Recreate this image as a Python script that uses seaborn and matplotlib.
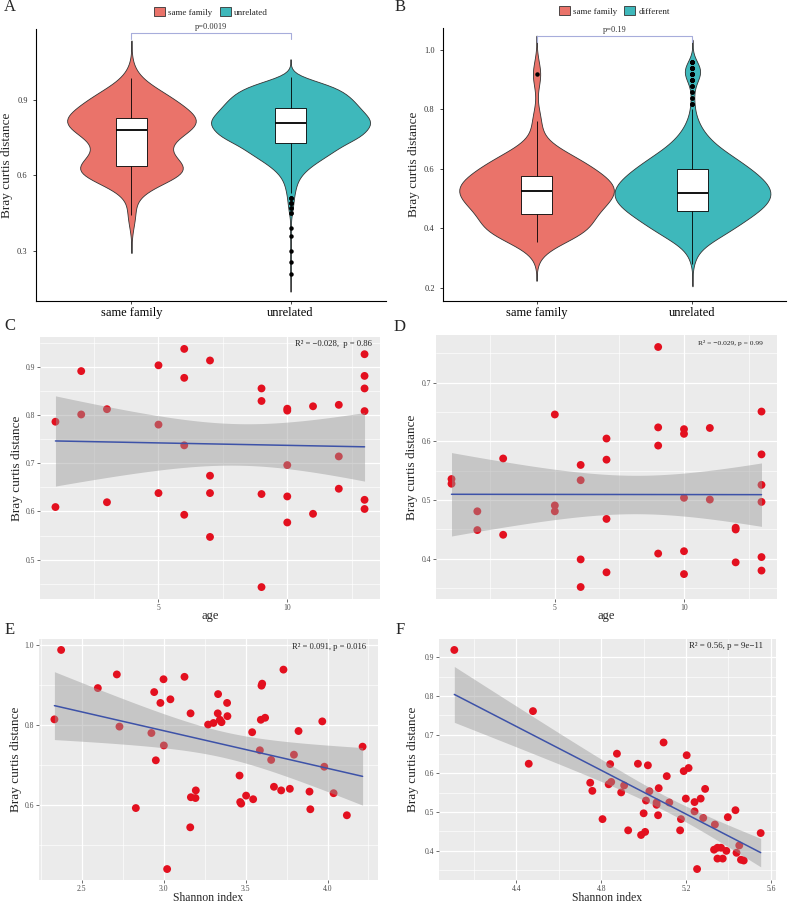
import matplotlib
matplotlib.use('Agg')
import matplotlib.pyplot as plt
from matplotlib.patches import Patch
from matplotlib.ticker import MultipleLocator
import numpy as np
import pandas as pd
import seaborn as sns

SAME_COLOR = '#EA736A'
OTHER_COLOR = '#3EB8BB'
POINT_COLOR = '#E3101F'
LINE_COLOR = '#3D52A8'
BRACKET_COLOR = '#A7ADDB'

# ---- panels C / D: age vs Bray-Curtis distance (same family pairs) ----
age = [1, 1, 2, 2, 3, 3, 5, 5, 5, 6, 6, 6, 6, 7, 7, 7, 7, 9, 9, 9, 9,
       10, 10, 10, 10, 10, 11, 11, 12, 12, 12, 13, 13, 13, 13, 13, 13]
bray_age_c = [0.786, 0.609, 0.891, 0.801, 0.812, 0.619, 0.903, 0.780, 0.638,
              0.937, 0.877, 0.737, 0.593, 0.913, 0.674, 0.638, 0.547,
              0.855, 0.829, 0.636, 0.443, 0.813, 0.809, 0.696, 0.631, 0.577,
              0.818, 0.595, 0.821, 0.714, 0.647,
              0.926, 0.881, 0.855, 0.808, 0.624, 0.605]
bray_age_d = [0.536, 0.528, 0.481, 0.449, 0.571, 0.441, 0.646, 0.491, 0.481,
              0.560, 0.534, 0.399, 0.352, 0.605, 0.569, 0.468, 0.377,
              0.761, 0.624, 0.593, 0.409, 0.621, 0.613, 0.504, 0.413, 0.374,
              0.623, 0.501, 0.453, 0.450, 0.394,
              0.651, 0.578, 0.526, 0.497, 0.403, 0.380]

# ---- panel E: Shannon index vs Bray-Curtis distance ----
shannon_e = [2.333, 2.374, 2.598, 2.714, 2.730, 2.830, 2.925, 2.942, 2.952, 2.980,
             2.999, 3.001, 3.041, 3.021, 3.127, 3.164, 3.162, 3.166, 3.194, 3.196,
             3.271, 3.304, 3.332, 3.330, 3.343, 3.353, 3.387, 3.389, 3.463, 3.467,
             3.473, 3.503, 3.540, 3.546, 3.587, 3.593, 3.597, 3.601, 3.619, 3.656,
             3.673, 3.717, 3.731, 3.770, 3.795, 3.823, 3.890, 3.895, 3.968, 3.980,
             4.037, 4.118, 4.214]
bray_e = [0.814, 0.987, 0.892, 0.926, 0.796, 0.593, 0.780, 0.882, 0.712, 0.855,
          0.914, 0.749, 0.864, 0.441, 0.920, 0.829, 0.545, 0.620, 0.618, 0.637,
          0.801, 0.805, 0.877, 0.829, 0.813, 0.807, 0.855, 0.822, 0.674, 0.608,
          0.604, 0.624, 0.782, 0.615, 0.737, 0.813, 0.898, 0.903, 0.818, 0.713,
          0.646, 0.637, 0.938, 0.641, 0.726, 0.785, 0.634, 0.590, 0.809, 0.696,
          0.630, 0.575, 0.746]

# ---- panel F: Shannon index vs Bray-Curtis distance ----
shannon_f = [4.107, 4.458, 4.478, 4.874, 4.842, 4.973, 5.020, 4.748, 4.758, 4.835,
             4.847, 4.908, 4.894, 5.109, 5.071, 5.027, 5.011, 5.061, 5.061, 5.121,
             4.806, 5.000, 5.068, 4.927, 4.988, 5.007, 5.094, 5.203, 5.189, 5.212,
             5.290, 5.199, 5.240, 5.269, 5.240, 5.176, 5.172, 5.281, 5.336, 5.397,
             5.433, 5.552, 5.451, 5.332, 5.348, 5.365, 5.390, 5.438, 5.348, 5.373,
             5.459, 5.472, 5.252]
bray_f = [0.919, 0.625, 0.761, 0.651, 0.624, 0.625, 0.621, 0.576, 0.555, 0.572,
          0.578, 0.569, 0.551, 0.593, 0.562, 0.554, 0.530, 0.525, 0.519, 0.525,
          0.482, 0.497, 0.492, 0.453, 0.441, 0.449, 0.680, 0.647, 0.606, 0.614,
          0.560, 0.535, 0.526, 0.535, 0.502, 0.482, 0.453, 0.485, 0.468, 0.487,
          0.505, 0.446, 0.414, 0.403, 0.408, 0.408, 0.400, 0.395, 0.380, 0.380,
          0.377, 0.375, 0.353]

# ---- panels A / B: unrelated pairs, read as value / count histogram ----
unrel_a_values = [0.99, 0.97, 0.95, 0.93, 0.91, 0.89, 0.87, 0.85, 0.83, 0.81,
                  0.79, 0.77, 0.75, 0.73, 0.71, 0.69, 0.67, 0.65, 0.63, 0.61,
                  0.59, 0.57, 0.55, 0.53, 0.51, 0.49, 0.47, 0.45,
                  0.39, 0.36, 0.30, 0.255, 0.21]
unrel_a_counts = [6, 32, 45, 52, 58, 62, 66, 70, 76, 80,
                  76, 70, 70, 52, 46, 40, 32, 24, 17, 12,
                  8, 6, 5, 4, 3, 3, 2, 2,
                  1, 1, 1, 1, 1]
diff_b_values = [0.96, 0.94, 0.92, 0.90, 0.88, 0.86, 0.84, 0.82, 0.80, 0.78,
                 0.76, 0.74, 0.72, 0.70, 0.68, 0.66, 0.64, 0.62, 0.60, 0.58,
                 0.56, 0.54, 0.52, 0.50, 0.48, 0.46, 0.44, 0.42, 0.40, 0.38,
                 0.36, 0.34, 0.32, 0.30, 0.28]
diff_b_counts = [6, 14, 14, 8, 3, 2, 2, 3, 3, 5,
                 8, 12, 17, 25, 33, 45, 58, 70, 82, 92,
                 102, 108, 112, 110, 104, 95, 82, 70, 58, 45,
                 30, 16, 8, 4, 2]

GROUPS = ['same family', 'unrelated']

sns.set_theme(style='ticks')
plt.rcParams['font.family'] = ['Liberation Serif', 'DejaVu Serif']

W, H = 792, 906
fig = plt.figure(figsize=(W / 100, H / 100), dpi=100)


def add_axes(left, top, right, bottom):
    return fig.add_axes([left / W, 1 - bottom / H, (right - left) / W, (bottom - top) / H])


def t95(dof):
    # two-sided 95% Student t quantile (Cornish-Fisher expansion)
    z = 1.959964
    return z + (z ** 3 + z) / (4 * dof) + (5 * z ** 5 + 16 * z ** 3 + 3 * z) / (96 * dof ** 2)


def lm_band(x, y, n_grid=80):
    x = np.asarray(x, float)
    y = np.asarray(y, float)
    n = len(x)
    slope, intercept = np.polyfit(x, y, 1)
    resid = y - (intercept + slope * x)
    s = np.sqrt((resid ** 2).sum() / (n - 2))
    grid = np.linspace(x.min(), x.max(), n_grid)
    fit = intercept + slope * grid
    se = s * np.sqrt(1 / n + (grid - x.mean()) ** 2 / ((x - x.mean()) ** 2).sum())
    half = t95(n - 2) * se
    return grid, fit, fit - half, fit + half


def violin_panel(ax, same_vals, other_vals, legend_labels, ylim, yticks, p_text, p_y, width_px):
    df = pd.DataFrame({
        'group': [GROUPS[0]] * len(same_vals) + [GROUPS[1]] * len(other_vals),
        'value': list(same_vals) + list(other_vals),
    })
    sns.violinplot(data=df, x='group', y='value', hue='group', order=GROUPS, hue_order=GROUPS,
                   palette=[SAME_COLOR, OTHER_COLOR], legend=False, inner=None, cut=3,
                   bw_adjust=0.9, density_norm='area', common_norm=True, width=1.0,
                   linewidth=0.6, linecolor='#333333', saturation=1, ax=ax)
    sns.boxplot(data=df, x='group', y='value', order=GROUPS, width=0.2, color='white',
                linecolor='black', linewidth=0.6, showcaps=False, saturation=1,
                medianprops=dict(linewidth=1.3, color='black'),
                flierprops=dict(marker='o', markersize=2.2, markerfacecolor='black',
                                markeredgecolor='black'),
                ax=ax)
    ax.set_xlim(-0.6, 1.6)
    ax.set_ylim(*ylim)
    ax.set_yticks(yticks)
    ax.set_yticklabels([f'{t:.1f}' for t in yticks])
    ax.set_xlabel('')
    ax.set_ylabel('Bray curtis distance', fontsize=9.5, va='center')
    ax.yaxis.set_label_coords(-29 / width_px, 0.5)
    sns.despine(ax=ax)
    for s in ('left', 'bottom'):
        ax.spines[s].set_linewidth(0.8)
        ax.spines[s].set_color('black')
    ax.tick_params(axis='y', labelsize=6, labelcolor='#333333', length=2.5, width=0.6)
    ax.tick_params(axis='x', labelsize=9, labelcolor='black', length=2.5, width=0.6, pad=1.5)
    # significance bracket
    tick = (ylim[1] - ylim[0]) * 0.022
    ax.plot([0, 0, 1, 1], [p_y - tick, p_y, p_y, p_y - tick], color=BRACKET_COLOR,
            linewidth=0.8, clip_on=False)
    ax.text(0.5, p_y + tick * 0.3, p_text, ha='center', va='bottom', fontsize=6, color='#333333')
    handles = [Patch(facecolor=SAME_COLOR, edgecolor='#333333', linewidth=0.6),
               Patch(facecolor=OTHER_COLOR, edgecolor='#333333', linewidth=0.6)]
    ax.legend(handles, legend_labels, loc='lower center', bbox_to_anchor=(0.5, 1.045), ncol=2,
              frameon=False, fontsize=6.5, handlelength=1.2, handleheight=1.2,
              handletextpad=0.4, columnspacing=0.8, borderaxespad=0, borderpad=0)


def gg_limits(vals):
    lo, hi = min(vals), max(vals)
    pad = 0.05 * (hi - lo)
    return lo - pad, hi + pad


def scatter_panel(ax, x, y, xlabel, xmaj, ymaj, note, note_xy, note_size, width_px, label_off,
                  xlabel_size=9, xlabel_pad=-1.5):
    ax.set_facecolor('#EBEBEB')
    sns.scatterplot(x=x, y=y, color=POINT_COLOR, s=32, edgecolor='none', ax=ax, zorder=2)
    grid, fit, lo, hi = lm_band(x, y)
    ax.fill_between(grid, lo, hi, color='#999999', alpha=0.45, linewidth=0, zorder=3)
    sns.lineplot(x=grid, y=fit, color=LINE_COLOR, linewidth=1.1, ax=ax, zorder=4)
    ax.set_xlim(*gg_limits(x))
    ax.set_ylim(*gg_limits(y))
    ax.xaxis.set_major_locator(MultipleLocator(xmaj))
    ax.xaxis.set_minor_locator(MultipleLocator(xmaj / 2))
    ax.yaxis.set_major_locator(MultipleLocator(ymaj))
    ax.yaxis.set_minor_locator(MultipleLocator(ymaj / 2))
    ax.grid(True, which='major', color='white', linewidth=0.9)
    ax.grid(True, which='minor', color='white', linewidth=0.45)
    ax.set_axisbelow(True)
    for s in ax.spines.values():
        s.set_visible(False)
    ax.tick_params(which='major', length=2.2, width=0.5, color='#333333', labelsize=5.5,
                   labelcolor='#4D4D4D', pad=1.5)
    ax.tick_params(which='minor', length=0)
    ax.set_xlabel(xlabel, fontsize=xlabel_size, labelpad=xlabel_pad)
    ax.set_ylabel('Bray curtis distance', fontsize=9.5, va='center')
    ax.yaxis.set_label_coords(-label_off / width_px, 0.5)
    ax.text(note_xy[0], note_xy[1], note, transform=ax.transAxes, ha='right', va='center',
            fontsize=note_size, color='#222222', zorder=5)


# A
ax_a = add_axes(36, 29, 386, 301)
violin_panel(ax_a, bray_e, np.repeat(unrel_a_values, unrel_a_counts),
             ['same family', 'unrelated'], (0.101, 1.182), [0.3, 0.6, 0.9],
             'p=0.0019', 1.166, 350)
# B
ax_b = add_axes(443, 28, 786, 301)
violin_panel(ax_b, bray_f, np.repeat(diff_b_values, diff_b_counts),
             ['same family', 'different'], (0.156, 1.074), [0.2, 0.4, 0.6, 0.8, 1.0],
             'p=0.19', 1.047, 343)
# C
ax_c = add_axes(40, 337, 380, 599)
scatter_panel(ax_c, age, bray_age_c, 'age', 5, 0.1,
              'R\u00b2 = \u22120.028,  p = 0.86', (0.976, 0.973), 6.2, 340, 23)
# D
ax_d = add_axes(436, 335, 777, 599)
scatter_panel(ax_d, age, bray_age_d, 'age', 5, 0.1,
              'R\u00b2 = \u22120.029, p = 0.99', (0.959, 0.970), 5.4, 341, 24)
# E
ax_e = add_axes(39, 639, 378, 880)
scatter_panel(ax_e, shannon_e, bray_e, 'Shannon index', 0.5, 0.2,
              'R\u00b2 = 0.091, p = 0.016', (0.965, 0.968), 6.2, 339, 23,
              xlabel_size=8.5, xlabel_pad=-0.5)
# F
ax_f = add_axes(439, 639, 776, 880)
scatter_panel(ax_f, shannon_f, bray_f, 'Shannon index', 0.4, 0.1,
              'R\u00b2 = 0.56, p = 9e\u221211', (0.961, 0.971), 6.4, 337, 26,
              xlabel_size=8.5, xlabel_pad=-0.5)

for letter, (px, py) in {'A': (10, 7), 'B': (400, 7), 'C': (10, 326), 'D': (400, 327),
                         'E': (10, 630), 'F': (400, 630)}.items():
    fig.text(px / W, 1 - py / H, letter, fontsize=12, ha='center', va='center')

fig.savefig('out.png', dpi=100)
